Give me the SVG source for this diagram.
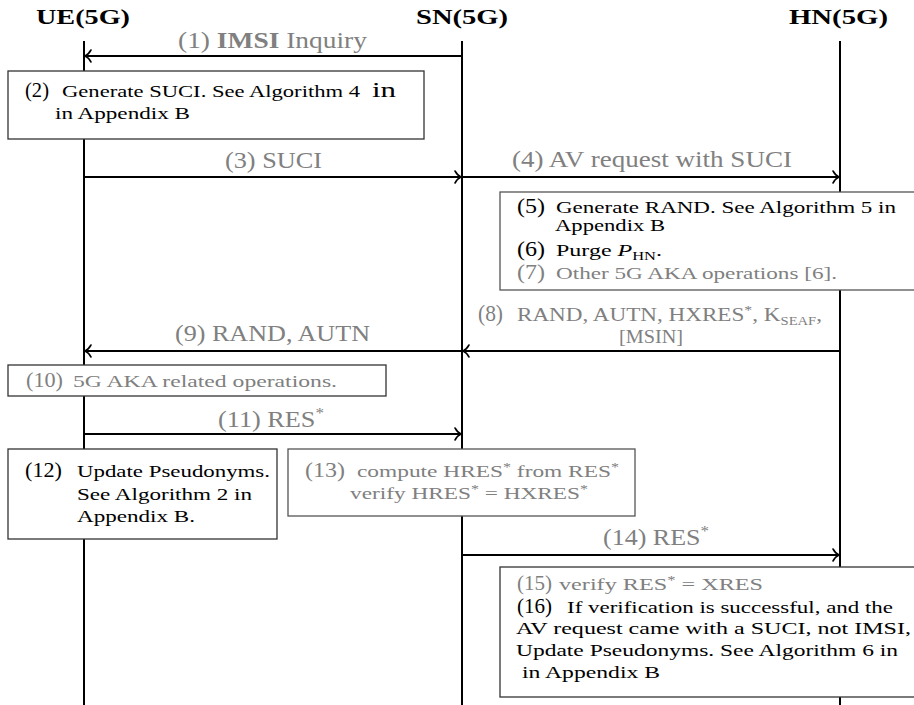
<svg xmlns="http://www.w3.org/2000/svg" width="914" height="705" viewBox="0 0 914 705">
<style>
text{font-family:"Liberation Serif","DejaVu Serif",serif;}
.hd{font-size:22px;font-weight:bold;fill:#000;}
.lbl{font-size:23px;fill:#808080;}
.lbs{font-size:19px;fill:#808080;}
.num{font-size:22px;}
.bt{font-size:17.5px;}
.g{fill:#808080;}
.k{fill:#000;}
.life{stroke:#000;stroke-width:2;fill:none;}
.msg{stroke:#000;stroke-width:2;fill:none;marker-end:url(#arr);}
.box{fill:#fff;stroke:#333;stroke-width:1.3;}
.boxg{fill:#fff;stroke:#555;stroke-width:1.3;}
</style>
<defs>
<marker id="arr" markerUnits="userSpaceOnUse" viewBox="-9 -8 11 16" refX="0" refY="0" markerWidth="11" markerHeight="16" orient="auto" overflow="visible">
<path d="M-6,-6 C-4,-2.5 -1.5,-0.6 0,0 C-1.5,0.6 -4,2.5 -6,6" stroke="#000" stroke-width="1.6" fill="none" stroke-linecap="round"/>
</marker>
</defs>

<g id="ue">
<text class="hd" x="36" y="24" textLength="94" lengthAdjust="spacingAndGlyphs">UE(5G)</text>
<line class="life" x1="84" y1="41" x2="84" y2="705"/>
</g>
<g id="sn">
<text class="hd" x="416" y="24" textLength="92" lengthAdjust="spacingAndGlyphs">SN(5G)</text>
<line class="life" x1="462" y1="41" x2="462" y2="705"/>
</g>
<g id="hn">
<text class="hd" x="789" y="24" textLength="99" lengthAdjust="spacingAndGlyphs">HN(5G)</text>
<line class="life" x1="840" y1="41" x2="840" y2="705"/>
</g>

<g id="connectors">
<line class="msg" x1="462" y1="56" x2="85" y2="56"/>
<text class="lbl" x="178" y="48" textLength="189" lengthAdjust="spacingAndGlyphs">(1) <tspan font-weight="bold">IMSI</tspan> Inquiry</text>

<line class="msg" x1="84" y1="177" x2="461" y2="177"/>
<text class="lbl" x="225" y="168" textLength="97" lengthAdjust="spacingAndGlyphs">(3) SUCI</text>

<line class="msg" x1="462" y1="177" x2="839" y2="177"/>
<text class="lbl" x="512" y="167" textLength="280" lengthAdjust="spacingAndGlyphs">(4) AV request with SUCI</text>

<line class="msg" x1="840" y1="351" x2="463" y2="351"/>
<text class="lbl" x="478" y="321" textLength="25" lengthAdjust="spacingAndGlyphs">(8)</text>
<text class="lbs" x="517" y="321" textLength="305" lengthAdjust="spacingAndGlyphs">RAND, AUTN, HXRES<tspan dy="-7" font-size="13">*</tspan><tspan dy="7">, K</tspan><tspan dy="4" font-size="12">SEAF</tspan><tspan dy="-4">,</tspan></text>
<text class="lbs" x="619" y="343" textLength="64" lengthAdjust="spacingAndGlyphs">[MSIN]</text>

<line class="msg" x1="462" y1="351" x2="85" y2="351"/>
<text class="lbl" x="175" y="341" textLength="195" lengthAdjust="spacingAndGlyphs">(9) RAND, AUTN</text>

<line class="msg" x1="84" y1="434" x2="461" y2="434"/>
<text class="lbl" x="218" y="427" textLength="106" lengthAdjust="spacingAndGlyphs">(11) RES<tspan dy="-9" font-size="15">*</tspan></text>

<line class="msg" x1="462" y1="555" x2="839" y2="555"/>
<text class="lbl" x="603" y="545" textLength="106" lengthAdjust="spacingAndGlyphs">(14) RES<tspan dy="-9" font-size="15">*</tspan></text>
</g>

<g id="box2">
<rect class="box" x="8" y="71" width="416" height="68"/>
<text class="num k" x="25" y="97" textLength="24" lengthAdjust="spacingAndGlyphs">(2)</text>
<text class="bt k" x="62" y="97" textLength="298" lengthAdjust="spacingAndGlyphs">Generate SUCI. See Algorithm 4</text>
<text class="num k" x="372" y="97" textLength="24" lengthAdjust="spacingAndGlyphs">in</text>
<text class="bt k" x="55" y="119" textLength="135" lengthAdjust="spacingAndGlyphs">in Appendix B</text>
</g>

<g id="box5">
<rect class="boxg" x="500" y="192" width="420" height="98"/>
<text class="num k" x="517" y="213" textLength="28" lengthAdjust="spacingAndGlyphs">(5)</text>
<text class="bt k" x="556" y="213" textLength="340" lengthAdjust="spacingAndGlyphs">Generate RAND. See Algorithm 5 in</text>
<text class="bt k" x="555" y="231" textLength="110" lengthAdjust="spacingAndGlyphs">Appendix B</text>
<text class="num k" x="517" y="256" textLength="28" lengthAdjust="spacingAndGlyphs">(6)</text>
<text class="bt k" x="556" y="256" textLength="106" lengthAdjust="spacingAndGlyphs">Purge <tspan font-style="italic">P</tspan><tspan dy="4" font-size="12">HN</tspan><tspan dy="-4">.</tspan></text>
<text class="num g" x="517" y="279" textLength="28" lengthAdjust="spacingAndGlyphs">(7)</text>
<text class="bt g" x="556" y="279" textLength="281" lengthAdjust="spacingAndGlyphs">Other 5G AKA operations [6].</text>
</g>

<g id="box10">
<rect class="box" x="8" y="365" width="378" height="31"/>
<text class="num g" x="26" y="387" textLength="37" lengthAdjust="spacingAndGlyphs">(10)</text>
<text class="bt g" x="73" y="387" style="font-size:16px" textLength="264" lengthAdjust="spacingAndGlyphs">5G AKA related operations.</text>
</g>

<g id="box12">
<rect class="box" x="8" y="449" width="269" height="90"/>
<text class="num k" x="25" y="477" textLength="37" lengthAdjust="spacingAndGlyphs">(12)</text>
<text class="bt k" x="77" y="477" textLength="193" lengthAdjust="spacingAndGlyphs">Update Pseudonyms.</text>
<text class="bt k" x="77" y="500" textLength="175" lengthAdjust="spacingAndGlyphs">See Algorithm 2 in</text>
<text class="bt k" x="77" y="522" textLength="118" lengthAdjust="spacingAndGlyphs">Appendix B.</text>
</g>

<g id="box13">
<rect class="boxg" x="288" y="449" width="347" height="67"/>
<text class="num g" x="305" y="477" textLength="40" lengthAdjust="spacingAndGlyphs">(13)</text>
<text class="bt g" x="357" y="477" textLength="262" lengthAdjust="spacingAndGlyphs">compute HRES<tspan dy="-6" font-size="12">*</tspan><tspan dy="6"> from RES</tspan><tspan dy="-6" font-size="12">*</tspan></text>
<text class="bt g" x="350" y="499" textLength="238" lengthAdjust="spacingAndGlyphs">verify HRES<tspan dy="-6" font-size="12">*</tspan><tspan dy="6"> = HXRES</tspan><tspan dy="-6" font-size="12">*</tspan></text>
</g>

<g id="box16">
<rect class="box" x="500" y="567" width="420" height="130"/>
<text class="num g" x="517" y="590" textLength="35" lengthAdjust="spacingAndGlyphs">(15)</text>
<text class="bt g" x="559" y="590" textLength="204" lengthAdjust="spacingAndGlyphs">verify RES<tspan dy="-6" font-size="12">*</tspan><tspan dy="6"> = XRES</tspan></text>
<text class="num k" x="517" y="613" textLength="35" lengthAdjust="spacingAndGlyphs">(16)</text>
<text class="bt k" x="567" y="613" textLength="326" lengthAdjust="spacingAndGlyphs">If verification is successful, and the</text>
<text class="bt k" x="516" y="634" textLength="395" lengthAdjust="spacingAndGlyphs">AV request came with a SUCI, not IMSI,</text>
<text class="bt k" x="516" y="656" textLength="382" lengthAdjust="spacingAndGlyphs">Update Pseudonyms. See Algorithm 6 in</text>
<text class="bt k" x="522" y="678" textLength="138" lengthAdjust="spacingAndGlyphs">in Appendix B</text>
</g>
</svg>
